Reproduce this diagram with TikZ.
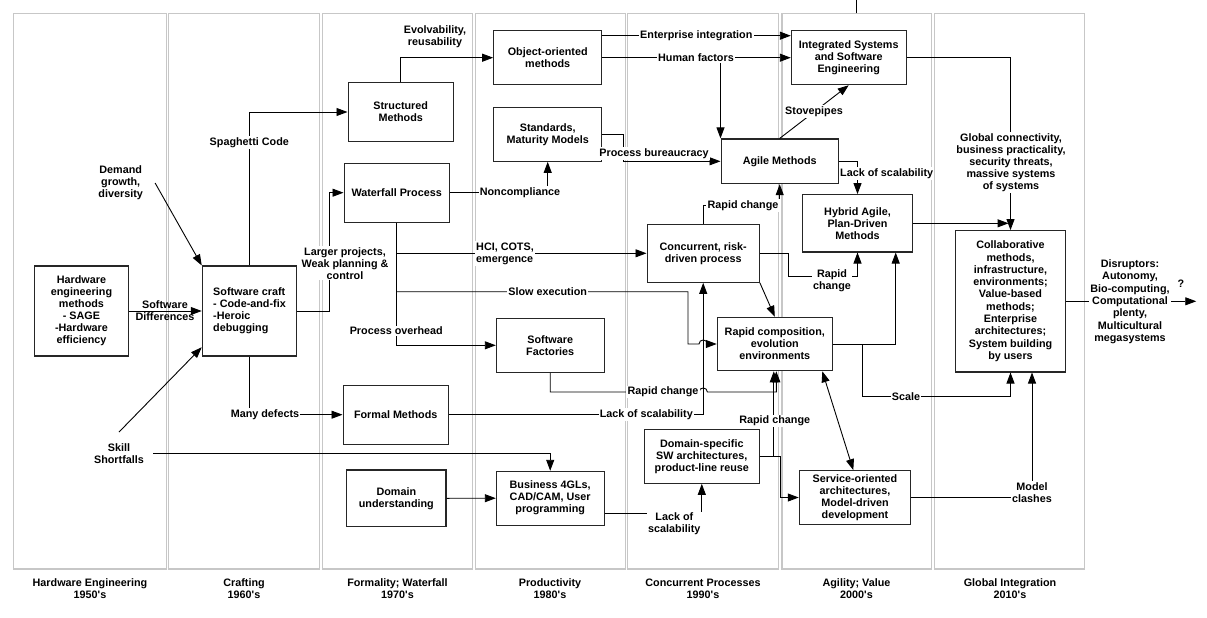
\documentclass[tikz,border=0pt]{standalone}
\usepackage{fontspec}
\setmainfont{Liberation Sans}
\usetikzlibrary{arrows.meta}
\begin{document}
\begin{tikzpicture}[x=1pt,y=-1pt,
  font=\fontsize{10.8}{12}\selectfont\bfseries,
  col/.style={draw=black!22,line width=1.4pt},
  box/.style={draw=black!85,line width=1.1pt,fill=white,align=center,inner sep=0pt},
  lbl/.style={fill=white,inner sep=1.2pt,align=center},
  txt/.style={inner sep=1pt,align=center},
  conn/.style={draw=black,line width=0.9pt,-{Triangle[length=11pt,width=8pt]}},
  plainline/.style={draw=black,line width=0.9pt},
  dblarrow/.style={draw=black,line width=0.9pt,{Triangle[length=11pt,width=8pt]}-{Triangle[length=11pt,width=8pt]}}
]
\useasboundingbox (0,0) rectangle (1207,618);
% columns
\draw[col] (13.3,13.3) rectangle (166.7,569);
\draw[col] (168.7,13.3) rectangle (319.3,569);
\draw[col] (322.7,13.3) rectangle (472.7,569);
\draw[col] (475.3,13.3) rectangle (625.3,569);
\draw[col] (627.3,13.3) rectangle (778.7,569);
\draw[col] (782,13.3) rectangle (931.3,569);
\draw[col] (934.7,13.3) rectangle (1084.7,569);
\coordinate (topend) at (856.7,0);
\coordinate (topstart) at (856.7,13.3);
\draw[plainline] (topstart) -- (topend);
% column labels
\node[txt] (c1) at (90,588.7) {Hardware Engineering\\1950\textquotesingle s};
\node[txt] (c2) at (244,588.7) {Crafting\\1960\textquotesingle s};
\node[txt] (c3) at (397.5,588.7) {Formality; Waterfall\\1970\textquotesingle s};
\node[txt] (c4) at (550,588.7) {Productivity\\1980\textquotesingle s};
\node[txt] (c5) at (703,588.7) {Concurrent Processes\\1990\textquotesingle s};
\node[txt] (c6) at (856.5,588.7) {Agility; Value\\2000\textquotesingle s};
\node[txt] (c7) at (1010,588.7) {Global Integration\\2010\textquotesingle s};
% boxes
\node[box,minimum width=94.4pt,minimum height=90pt] (hw) at (81.5,311) {Hardware\\engineering\\methods\\- SAGE\\-Hardware\\efficiency};
\node[box,align=left,minimum width=94.4pt,minimum height=90pt] (sw) at (249.5,311) {Software craft\\- Code-and-fix\\-Heroic\\debugging};
\node[box,minimum width=105.3pt,minimum height=58.6pt] (struct) at (400.7,112) {Structured\\Methods};
\node[box,minimum width=105.3pt,minimum height=58.7pt] (wf) at (396.7,192.7) {Waterfall Process};
\node[box,minimum width=108pt,minimum height=54pt] (oo) at (547.7,57.7) {Object-oriented\\methods};
\node[box,minimum width=108pt,minimum height=54pt] (std) at (547.7,134.3) {Standards,\\Maturity Models};
\node[box,minimum width=107.7pt,minimum height=54pt] (sf) at (550.2,345.3) {Software\\Factories};
\node[box,minimum width=105.3pt,minimum height=58.7pt] (formal) at (395.7,414.7) {Formal Methods};
\node[box,minimum width=99.3pt,minimum height=56.7pt] (dom) at (396.3,498.3) {Domain\\understanding};
\node[box,minimum width=107.7pt,minimum height=53.7pt] (bus) at (550.2,498.2) {Business 4GLs,\\CAD/CAM, User\\programming};
\node[box,minimum width=114.7pt,minimum height=54pt] (isse) at (848.7,57.7) {Integrated Systems\\and Software\\Engineering};
\node[box,minimum width=117.3pt,minimum height=44.7pt] (agile) at (779.7,161.3) {Agile Methods};
\node[box,minimum width=109.6pt,minimum height=57.3pt] (hyb) at (857.5,223.3) {Hybrid Agile,\\Plan-Driven\\Methods};
\node[box,minimum width=112.3pt,minimum height=58pt] (conc) at (703.2,253.3) {Concurrent, risk-\\driven process};
\node[box,minimum width=115pt,minimum height=53.4pt] (rc) at (774.8,344) {Rapid composition,\\evolution\\environments};
\node[box,minimum width=115pt,minimum height=54pt] (ds) at (701.8,456.3) {Domain-specific\\SW architectures,\\product-line reuse};
\node[box,minimum width=111.4pt,minimum height=53.6pt] (so) at (855,497.5) {Service-oriented\\architectures,\\Model-driven\\development};
\node[box,minimum width=110.4pt,minimum height=141.3pt,font=\fontsize{10.8}{12.3}\selectfont\bfseries] (collab) at (1010.5,301.3) {Collaborative\\methods,\\infrastructure,\\environments;\\Value-based\\methods;\\Enterprise\\architectures;\\System building\\by users};
% free labels (positions)
\node[txt] (demand) at (120.7,183) {Demand\\growth,\\diversity};
\node[txt] (skill) at (119,453.2) {Skill\\Shortfalls};
\node[txt] (evolv) at (435,36.3) {Evolvability,\\reusability};
\node[txt] (question) at (1181,284) {?};
\coordinate (slowy) at (0,291.7);
\coordinate (scaley) at (0,396.7);
% connectors
\draw[conn] (hw.east) -- (sw.west);
\draw[conn] ([xshift=11pt]demand.east) -- (sw.north west);
\draw[conn] ([yshift=10pt]skill.north) -- ([yshift=9.3pt]sw.south west);
\draw[conn] ([xshift=8pt]skill.east) -| (bus.north);
\draw[conn] (sw.north) |- (struct.west);
\draw[conn] (sw.east) -- ++(32,0) |- (wf.west);
\draw[conn] (sw.south) |- (formal.west);
\draw[conn] (struct.north) |- (oo.west);
\draw[conn] (wf.east) -| (std.south);
\draw[conn] (wf.south) |- (sf.west);
\draw[conn] (wf.south |- conc.west) -- (conc.west);
\draw[conn] (wf.south |- slowy) -- (688,291.7) -- (688,344) -- (699,344) .. controls (699,338.7) and (707.4,338.7) .. (707.4,344) -- (rc.west);
\draw[conn] (sf.south) |- (699,392) .. controls (699,386.7) and (707.4,386.7) .. (707.4,392) -| ([xshift=1.5pt]rc.south);
\draw[conn] (formal.east) -| (conc.south);
\draw[conn] (dom.east) -- (bus.west);
\draw[conn] ([yshift=-15pt]bus.east) -| (ds.south);
\draw[conn] (ds.east) -| ([xshift=-1pt]rc.south);
\draw[conn] (ds.east) -- ++(21,0) |- (so.west);
\draw[conn] (conc.north) |- (agile.south |- 0,205.7) -- (agile.south);
\draw[conn] (conc.east) -- ++(29,0) -- ++(0,23.4) -| (hyb.south);
\draw[conn] (conc.south east) -- (rc.north);
\draw[conn] (agile.north) -- (isse.south);
\draw[conn] (agile.east) -| (hyb.north);
\draw[conn] ([yshift=22pt]oo.east) -- ([yshift=22pt]isse.west);
\draw[conn] (oo.east) -- (isse.west);
\draw[conn] (agile.north west |- oo.east) -- (agile.north west);
\draw[conn] (std.east) -- ++(21,0) |- (agile.west);
\draw[conn] (isse.east) -| (collab.north);
\draw[conn] (hyb.east) -- ++(95.7,0);
\draw[conn] (rc.east) -| ([xshift=38.2pt]hyb.south);
\draw[conn] ([xshift=30pt]rc.east) |- (collab.south |- scaley) -- (collab.south);
\draw[dblarrow] ([xshift=47.5pt]rc.south) -- ([xshift=-1.7pt]so.north);
\draw[conn] (so.east) -| ([xshift=21.5pt]collab.south);
\draw[conn] (collab.east) -- ++(130,0);
% labels on connectors
\node[txt] (swdiff) at (165,310.8) {Software\\Differences};
\node[lbl] (spag) at (249.3,142.7) {Spaghetti Code};
\node[lbl] (manydef) at (265,414.3) {Many defects};
\node[lbl] (noncompl) at (520,192.7) {Noncompliance};
\node[lbl] (larger) at (345,263.3) {Larger projects,\\Weak planning \&\\control};
\node[lbl,align=left] (hci) at (505,253.5) {HCI, COTS,\\emergence};
\node[lbl] (slow) at (547.7,291.7) {Slow execution};
\node[lbl] (procover) at (396.3,330.7) {Process overhead};
\node[lbl] (procbur) at (654,153.5) {Process bureaucracy};
\node[lbl] (entint) at (696.3,35.7) {Enterprise integration};
\node[lbl] (humfac) at (696,57.7) {Human factors};
\node[lbl] (stove) at (814,111.7) {Stovepipes};
\node[lbl] (lackscal1) at (886.7,173.7) {Lack of scalability};
\node[lbl] (rapid1) at (743,205.7) {Rapid change};
\node[lbl] (rapid2) at (832,281.2) {Rapid\\change};
\node[lbl] (rapid3) at (663,392) {Rapid change};
\node[lbl] (lackscal2) at (646.3,414.3) {Lack of scalability};
\node[lbl] (rapid4) at (774.7,421) {Rapid change};
\node[lbl] (lackscal3) at (674.3,524.2) {Lack of\\scalability};
\node[lbl] (scale) at (906,396.7) {Scale};
\node[lbl] (global) at (1011,162.7) {Global connectivity,\\business practicality,\\security threats,\\massive systems\\of systems};
\node[lbl] (model) at (1032,492.3) {Model\\clashes};
\node[lbl,font=\fontsize{10.8}{12.3}\selectfont\bfseries] (disrupt) at (1130,301.8) {Disruptors:\\Autonomy,\\Bio-computing,\\Computational\\plenty,\\Multicultural\\megasystems};
\end{tikzpicture}
\end{document}
